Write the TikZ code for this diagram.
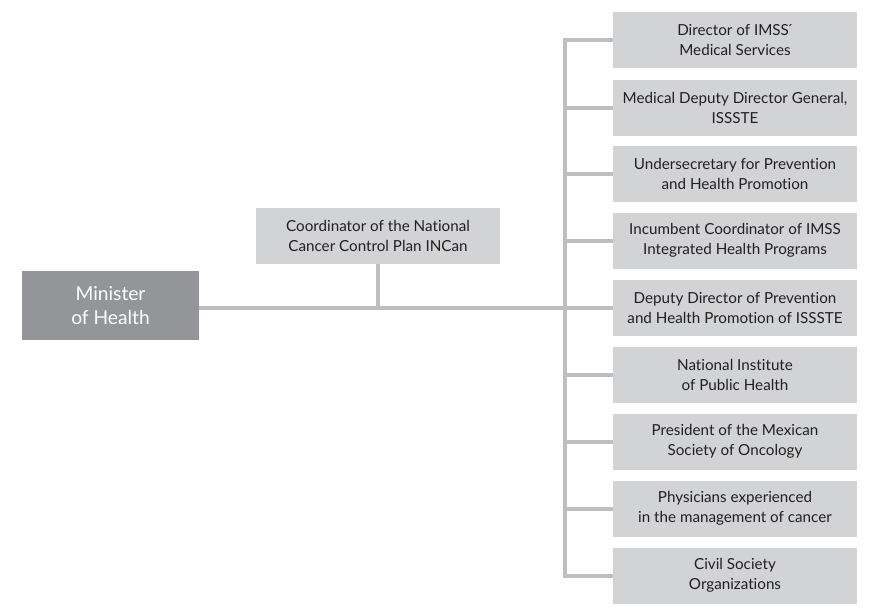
\documentclass[tikz,border=0pt]{standalone}
\usepackage{fontspec}
\setmainfont{Lato}[Ligatures=NoCommon]
\definecolor{boxfill}{HTML}{D1D3D4}
\definecolor{darkfill}{HTML}{939598}
\definecolor{linec}{HTML}{BCBEC0}
\definecolor{txt}{HTML}{231F20}
\begin{document}
\begin{tikzpicture}[x=0.75pt,y=-0.75pt,
  lightbox/.style={fill=boxfill,draw=none,minimum width=183pt,minimum height=42pt,inner sep=0pt,align=center,text=txt,font=\fontsize{11.4}{15}\selectfont},
  darkbox/.style={fill=darkfill,draw=none,minimum width=132.75pt,minimum height=51.75pt,inner sep=0pt,align=center,text=white,font=\fontsize{14.4}{18}\selectfont},
  conn/.style={draw=linec,line width=3pt}]
\useasboundingbox (0,0) rectangle (871,614);
\coordinate (busx) at (565,0);
\node[darkbox] (mini) at (110.5,305.5) {Minister\\of Health};
\node[lightbox] (coord) at (378,235.5) {Coordinator of the National\\Cancer Control Plan INCan};
\node[lightbox] (b1) at (735,40) {Director of IMSS\'{}\\Medical Services};
\node[lightbox] (b2) at (735,107.5) {Medical Deputy Director General,\\ISSSTE};
\node[lightbox] (b3) at (735,174) {Undersecretary for Prevention\\and Health Promotion};
\node[lightbox] (b4) at (735,240.7) {Incumbent Coordinator of IMSS\\Integrated Health Programs};
\node[lightbox] (b5) at (735,308) {Deputy Director of Prevention\\and Health Promotion of ISSSTE};
\node[lightbox] (b6) at (735,375) {National Institute\\of Public Health};
\node[lightbox] (b7) at (735,441.5) {President of the Mexican\\Society of Oncology};
\node[lightbox] (b8) at (735,508.5) {Physicians experienced\\in the management of cancer};
\node[lightbox] (b9) at (735,575.5) {Civil Society\\Organizations};
% bus
\draw[conn,line cap=rect] (b1.west -| busx) -- (b9.west -| busx);
\foreach \b in {b1,b2,b3,b4,b5,b6,b7,b8,b9}{
  \draw[conn] (\b.west -| busx) -- (\b.west);
}
\draw[conn] (mini.east |- b5.west) -- (b5.west -| busx);
\draw[conn] (coord.south) -- (coord.south |- b5.west);
\end{tikzpicture}
\end{document}
